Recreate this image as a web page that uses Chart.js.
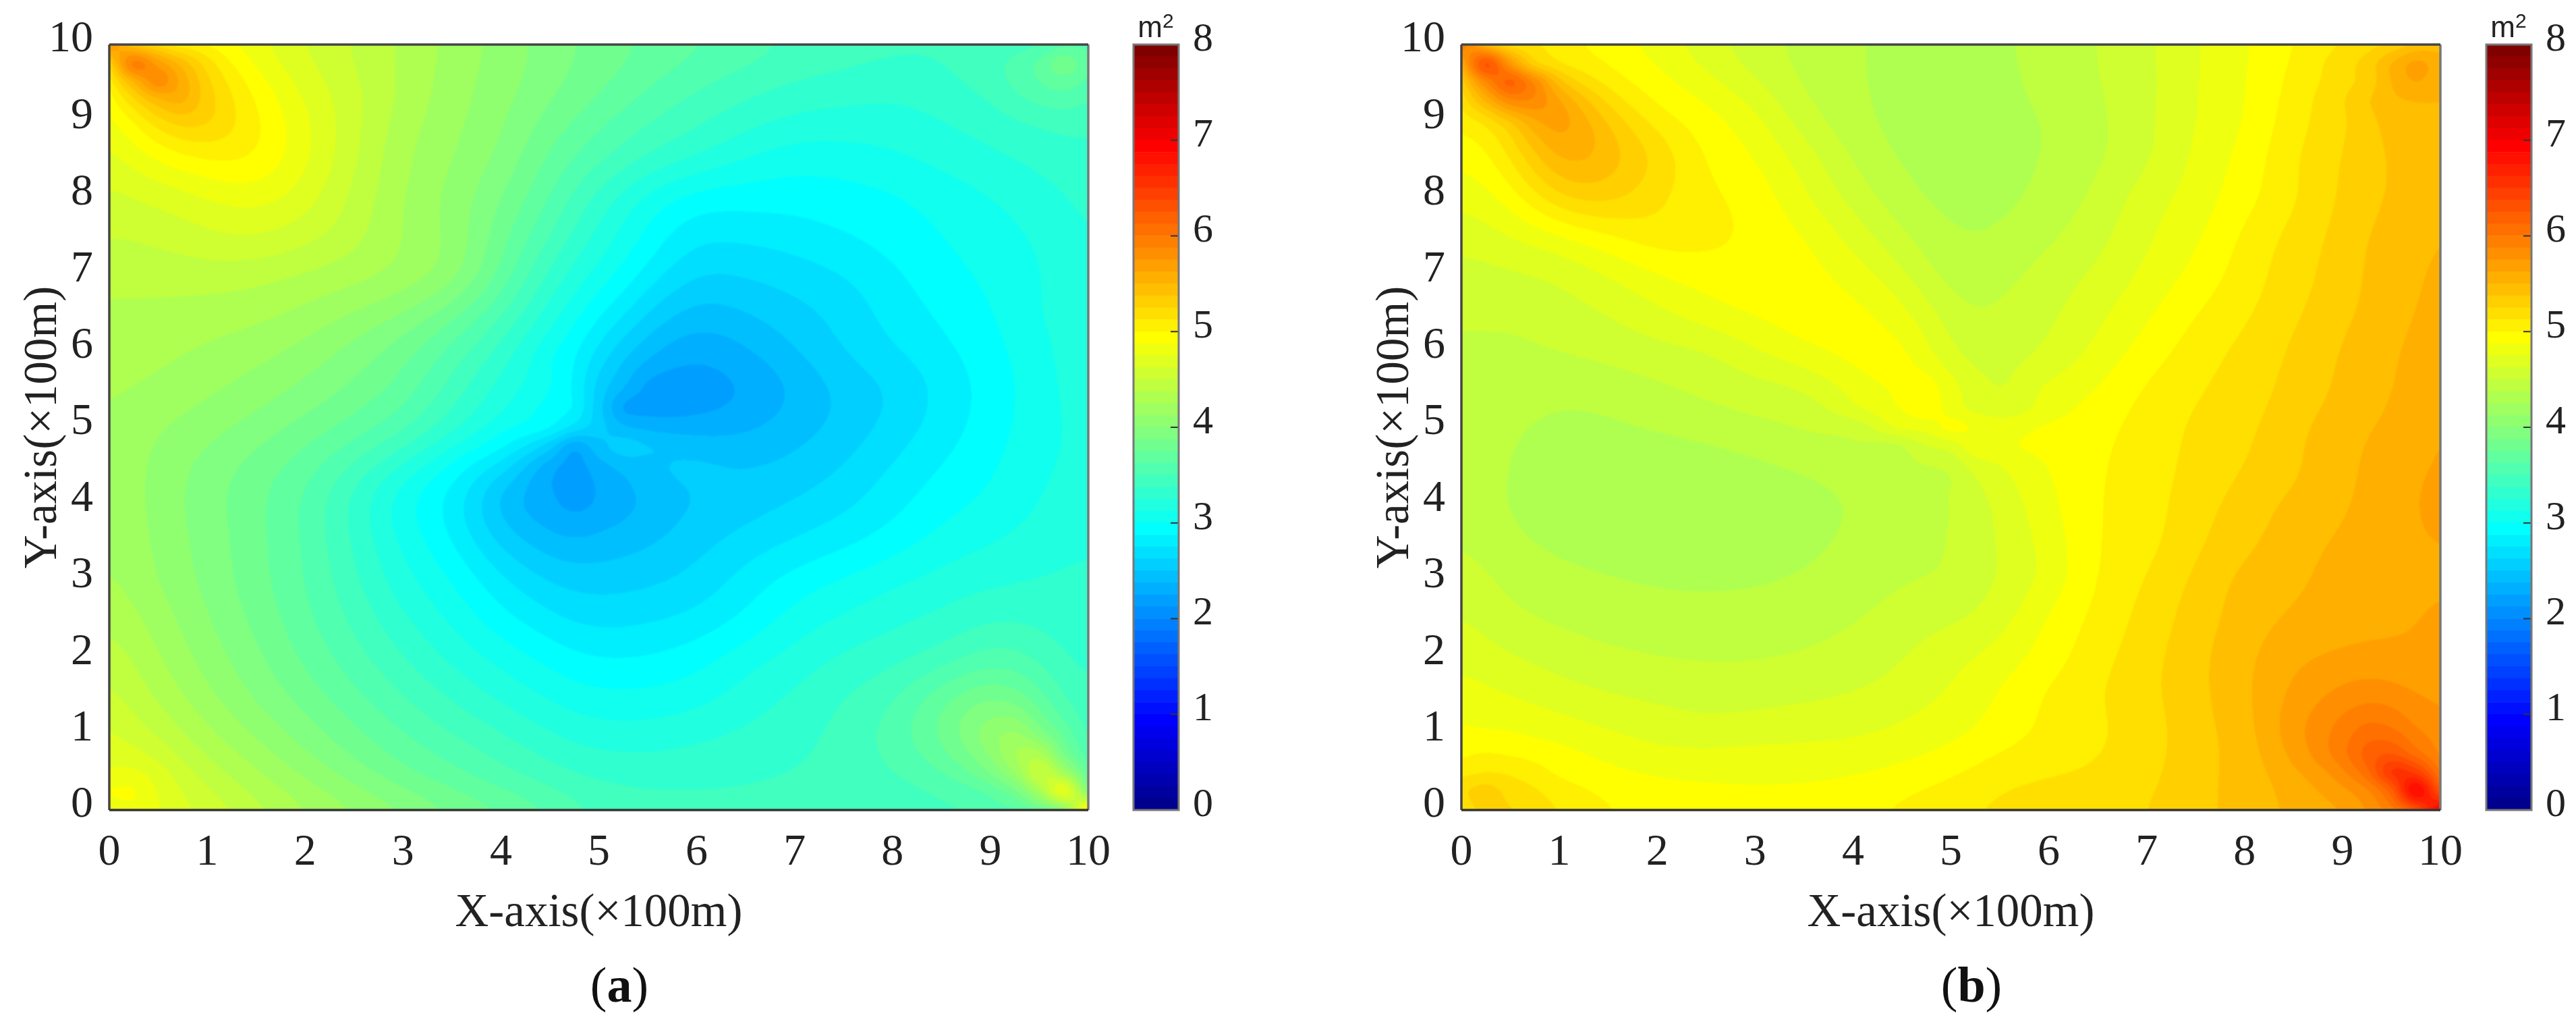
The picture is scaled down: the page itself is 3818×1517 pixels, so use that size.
<!DOCTYPE html>
<html>
<head>
<meta charset="utf-8">
<title>Contour maps</title>
<script src="https://cdn.jsdelivr.net/npm/chart.js@4"></script>
<style>
  html, body { margin: 0; background: #fff; }
  body { position: relative; width: 3818px; height: 1517px; overflow: hidden; font-family: "Liberation Serif", serif; color: #222; }
  canvas { position: absolute; top: 0; }
  .tag { position: absolute; top: 1414px; width: 200px; text-align: center; font-size: 74px; line-height: 90px; color: #111; }
  .unit { position: absolute; top: 15px; width: 80px; text-align: center; font-family: "Liberation Sans", sans-serif; font-size: 44px; line-height: 50px; color: #222; }
  .unit sup { font-size: 30px; line-height: 0; position: relative; top: 2px; vertical-align: super; }
</style>
</head>
<body>
<canvas id="fieldA" width="1670" height="1517" style="left:0"></canvas>
<canvas id="barA" width="143" height="1300" style="left:1670px"></canvas>
<canvas id="fieldB" width="1670" height="1517" style="left:2004px"></canvas>
<canvas id="barB" width="143" height="1300" style="left:3675px"></canvas>
<div class="tag" style="left:818px">(<b>a</b>)</div>
<div class="tag" style="left:2822px">(<b>b</b>)</div>
<div class="unit" style="left:1673px">m<sup>2</sup></div>
<div class="unit" style="left:3678px">m<sup>2</sup></div>
<script>
const xTicks = [0, 1, 2, 3, 4, 5, 6, 7, 8, 9, 10];
const yTicks = [0, 1, 2, 3, 4, 5, 6, 7, 8, 9, 10];
const colorTicks = [0, 1, 2, 3, 4, 5, 6, 7, 8];

// contour levels of the colour scale, m2
const levels = [
  0, 0.125, 0.25, 0.375, 0.5, 0.625, 0.75, 0.875, 1, 1.125, 1.25, 1.375, 1.5, 1.625, 1.75, 1.875,
  2, 2.125, 2.25, 2.375, 2.5, 2.625, 2.75, 2.875, 3, 3.125, 3.25, 3.375, 3.5, 3.625, 3.75, 3.875,
  4, 4.125, 4.25, 4.375, 4.5, 4.625, 4.75, 4.875, 5, 5.125, 5.25, 5.375, 5.5, 5.625, 5.75, 5.875,
  6, 6.125, 6.25, 6.375, 6.5, 6.625, 6.75, 6.875, 7, 7.125, 7.25, 7.375, 7.5, 7.625, 7.75, 7.875, 8
];

// sample positions, closer together at the corners and round the middle point
const gridX = [0, 0.25, 0.5, 0.75, 1, 1.5, 2, 2.5, 3, 3.5, 4, 4.5, 4.75, 5, 5.25, 5.5, 6, 6.5, 7, 7.5, 8, 8.5, 9, 9.25, 9.5, 9.75, 10];
const gridY = [10, 9.75, 9.5, 9.25, 9, 8.5, 8, 7.5, 7, 6.5, 6, 5.5, 5.25, 5, 4.75, 4.5, 4, 3.5, 3, 2.5, 2, 1.5, 1, 0.75, 0.5, 0.25, 0];

// places where the field really is sharp, kept out of the display smoothing
const sharpSpots = [[0, 10], [10, 0], [0, 0], [10, 10], [5, 5]];

// values, one row per gridY entry
const fieldA = [
  [5.8, 5.4, 5.2, 5.05, 4.95, 4.75, 4.6, 4.48, 4.35, 4.22, 4.08, 3.95, 3.88, 3.83, 3.78, 3.74, 3.66, 3.58, 3.5, 3.46, 3.42, 3.4, 3.42, 3.45, 3.5, 3.6, 3.6],
  [5.3, 5.9, 5.7, 5.45, 5.2, 4.85, 4.65, 4.5, 4.35, 4.2, 4.07, 3.94, 3.87, 3.82, 3.76, 3.7, 3.6, 3.52, 3.44, 3.4, 3.36, 3.38, 3.47, 3.53, 3.65, 3.82, 3.65],
  [5.05, 5.5, 5.8, 5.6, 5.3, 4.95, 4.7, 4.52, 4.35, 4.19, 4.06, 3.92, 3.85, 3.79, 3.72, 3.65, 3.53, 3.44, 3.37, 3.33, 3.3, 3.34, 3.44, 3.53, 3.62, 3.68, 3.6],
  [4.92, 5.2, 5.45, 5.55, 5.32, 5.0, 4.75, 4.55, 4.35, 4.18, 4.04, 3.88, 3.8, 3.73, 3.65, 3.58, 3.46, 3.37, 3.3, 3.27, 3.25, 3.29, 3.38, 3.46, 3.52, 3.55, 3.5],
  [4.82, 5.0, 5.2, 5.33, 5.3, 5.03, 4.78, 4.54, 4.31, 4.16, 4.02, 3.83, 3.74, 3.66, 3.58, 3.51, 3.4, 3.3, 3.22, 3.2, 3.2, 3.25, 3.31, 3.36, 3.4, 3.43, 3.42],
  [4.68, 4.8, 4.88, 4.95, 5.0, 5.0, 4.78, 4.52, 4.28, 4.13, 3.97, 3.72, 3.62, 3.53, 3.44, 3.36, 3.24, 3.12, 3.05, 3.06, 3.1, 3.16, 3.22, 3.25, 3.28, 3.31, 3.33],
  [4.58, 4.62, 4.66, 4.7, 4.75, 4.8, 4.68, 4.47, 4.25, 4.08, 3.88, 3.62, 3.47, 3.33, 3.2, 3.08, 2.94, 2.93, 2.93, 2.95, 2.98, 3.05, 3.12, 3.16, 3.2, 3.25, 3.28],
  [4.5, 4.51, 4.53, 4.56, 4.6, 4.63, 4.55, 4.42, 4.24, 4.09, 3.8, 3.5, 3.35, 3.21, 3.09, 2.97, 2.78, 2.78, 2.81, 2.87, 2.93, 3.0, 3.07, 3.1, 3.15, 3.2, 3.27],
  [4.42, 4.42, 4.43, 4.44, 4.44, 4.42, 4.36, 4.3, 4.22, 4.08, 3.72, 3.35, 3.2, 3.08, 2.97, 2.83, 2.63, 2.64, 2.69, 2.75, 2.85, 2.95, 3.03, 3.07, 3.11, 3.18, 3.26],
  [4.35, 4.35, 4.34, 4.33, 4.32, 4.29, 4.22, 4.12, 4.0, 3.8, 3.52, 3.2, 3.05, 2.9, 2.77, 2.62, 2.45, 2.5, 2.58, 2.67, 2.8, 2.9, 2.99, 3.06, 3.12, 3.19, 3.26],
  [4.3, 4.3, 4.28, 4.26, 4.23, 4.17, 4.08, 3.95, 3.8, 3.58, 3.33, 3.03, 2.9, 2.72, 2.55, 2.42, 2.28, 2.36, 2.5, 2.63, 2.74, 2.84, 2.96, 3.02, 3.07, 3.16, 3.25],
  [4.27, 4.25, 4.22, 4.19, 4.15, 4.07, 3.97, 3.85, 3.7, 3.45, 3.2, 3.0, 2.85, 2.58, 2.37, 2.22, 2.19, 2.24, 2.38, 2.53, 2.63, 2.78, 2.92, 3.0, 3.07, 3.14, 3.22],
  [4.25, 4.22, 4.18, 4.14, 4.1, 4.01, 3.9, 3.77, 3.62, 3.38, 3.15, 2.95, 2.85, 2.55, 2.25, 2.2, 2.21, 2.27, 2.4, 2.52, 2.64, 2.79, 2.93, 3.0, 3.07, 3.13, 3.2],
  [4.24, 4.19, 4.14, 4.09, 4.05, 3.95, 3.83, 3.7, 3.55, 3.3, 3.05, 2.87, 2.7, 2.55, 2.4, 2.35, 2.32, 2.35, 2.44, 2.54, 2.67, 2.8, 2.94, 3.01, 3.07, 3.13, 3.18],
  [4.24, 4.17, 4.1, 4.05, 4.0, 3.88, 3.75, 3.6, 3.4, 3.15, 2.9, 2.55, 2.3, 2.45, 2.55, 2.5, 2.45, 2.43, 2.49, 2.58, 2.71, 2.84, 2.96, 3.02, 3.08, 3.13, 3.18],
  [4.24, 4.16, 4.09, 4.02, 3.95, 3.82, 3.68, 3.47, 3.22, 2.95, 2.7, 2.32, 2.2, 2.33, 2.42, 2.47, 2.53, 2.5, 2.53, 2.63, 2.76, 2.88, 2.98, 3.04, 3.1, 3.14, 3.18],
  [4.25, 4.16, 4.08, 4.0, 3.93, 3.78, 3.6, 3.33, 3.03, 2.82, 2.44, 2.27, 2.2, 2.26, 2.33, 2.4, 2.5, 2.56, 2.64, 2.72, 2.83, 2.95, 3.03, 3.08, 3.13, 3.17, 3.2],
  [4.26, 4.18, 4.1, 4.02, 3.95, 3.79, 3.61, 3.36, 3.1, 2.88, 2.6, 2.42, 2.38, 2.42, 2.45, 2.48, 2.58, 2.68, 2.76, 2.84, 2.94, 3.05, 3.12, 3.15, 3.18, 3.21, 3.24],
  [4.28, 4.2, 4.12, 4.04, 3.96, 3.8, 3.62, 3.4, 3.17, 3.0, 2.78, 2.62, 2.58, 2.57, 2.58, 2.6, 2.67, 2.8, 2.93, 3.02, 3.1, 3.17, 3.22, 3.24, 3.26, 3.27, 3.28],
  [4.37, 4.28, 4.19, 4.1, 4.01, 3.84, 3.66, 3.47, 3.27, 3.1, 2.92, 2.78, 2.72, 2.71, 2.71, 2.73, 2.78, 2.9, 3.05, 3.14, 3.22, 3.28, 3.36, 3.36, 3.34, 3.31, 3.3],
  [4.46, 4.36, 4.26, 4.16, 4.07, 3.9, 3.72, 3.55, 3.38, 3.22, 3.08, 2.96, 2.9, 2.87, 2.87, 2.88, 2.95, 3.07, 3.17, 3.27, 3.33, 3.42, 3.55, 3.55, 3.47, 3.38, 3.32],
  [4.55, 4.45, 4.35, 4.25, 4.15, 3.98, 3.82, 3.65, 3.5, 3.35, 3.22, 3.1, 3.05, 3.03, 3.02, 3.03, 3.07, 3.18, 3.27, 3.37, 3.48, 3.7, 3.85, 3.82, 3.65, 3.48, 3.38],
  [4.64, 4.57, 4.48, 4.38, 4.28, 4.1, 3.94, 3.78, 3.63, 3.5, 3.38, 3.26, 3.21, 3.18, 3.17, 3.18, 3.22, 3.27, 3.33, 3.42, 3.56, 3.8, 4.13, 4.2, 3.95, 3.7, 3.45],
  [4.7, 4.66, 4.57, 4.46, 4.36, 4.18, 4.01, 3.85, 3.7, 3.58, 3.46, 3.34, 3.29, 3.26, 3.25, 3.25, 3.28, 3.32, 3.36, 3.42, 3.55, 3.72, 4.05, 4.3, 4.3, 3.85, 3.55],
  [4.77, 4.77, 4.68, 4.55, 4.44, 4.26, 4.09, 3.93, 3.77, 3.65, 3.53, 3.42, 3.37, 3.34, 3.33, 3.32, 3.33, 3.35, 3.38, 3.42, 3.5, 3.63, 3.9, 4.15, 4.5, 4.2, 3.7],
  [4.88, 4.88, 4.74, 4.62, 4.52, 4.35, 4.18, 4.03, 3.88, 3.74, 3.62, 3.5, 3.45, 3.41, 3.4, 3.39, 3.39, 3.39, 3.4, 3.41, 3.44, 3.5, 3.65, 3.85, 4.25, 4.7, 4.0],
  [4.8, 4.85, 4.76, 4.66, 4.59, 4.45, 4.3, 4.19, 4.07, 3.95, 3.83, 3.7, 3.6, 3.5, 3.46, 3.44, 3.42, 3.42, 3.42, 3.42, 3.42, 3.45, 3.52, 3.6, 3.75, 4.05, 5.1]
];

// values
const fieldB = [
  [6.0, 5.5, 5.2, 5.12, 5.05, 4.92, 4.79, 4.65, 4.55, 4.46, 4.39, 4.34, 4.32, 4.31, 4.32, 4.36, 4.42, 4.5, 4.6, 4.73, 4.85, 4.98, 5.125, 5.2, 5.28, 5.4, 5.45],
  [5.6, 6.25, 5.75, 5.3, 5.1, 4.98, 4.875, 4.72, 4.57, 4.47, 4.39, 4.33, 4.31, 4.3, 4.31, 4.35, 4.42, 4.5, 4.6, 4.75, 4.87, 5.03, 5.2, 5.3, 5.5, 5.65, 5.55],
  [5.3, 5.85, 6.15, 5.9, 5.45, 5.05, 4.93, 4.79, 4.63, 4.48, 4.4, 4.32, 4.3, 4.3, 4.31, 4.34, 4.42, 4.5, 4.58, 4.74, 4.86, 5.03, 5.2, 5.3, 5.5, 5.62, 5.53],
  [5.15, 5.5, 5.85, 5.9, 5.7, 5.22, 4.96, 4.89, 4.72, 4.51, 4.41, 4.32, 4.3, 4.3, 4.31, 4.34, 4.4, 4.48, 4.6, 4.75, 4.87, 5.07, 5.25, 5.37, 5.47, 5.5, 5.5],
  [5.02, 5.15, 5.35, 5.6, 5.75, 5.375, 5.07, 4.93, 4.8, 4.56, 4.42, 4.33, 4.31, 4.3, 4.31, 4.33, 4.38, 4.47, 4.6, 4.75, 4.87, 5.07, 5.22, 5.33, 5.43, 5.47, 5.48],
  [4.9, 4.95, 5.12, 5.35, 5.53, 5.45, 5.24, 4.99, 4.875, 4.7, 4.49, 4.36, 4.33, 4.32, 4.31, 4.32, 4.39, 4.48, 4.6, 4.78, 4.92, 5.12, 5.26, 5.33, 5.39, 5.43, 5.47],
  [4.78, 4.82, 4.93, 5.08, 5.25, 5.3, 5.14, 5.03, 4.95, 4.77, 4.58, 4.42, 4.36, 4.34, 4.33, 4.34, 4.42, 4.53, 4.7, 4.8, 4.95, 5.1, 5.27, 5.33, 5.39, 5.44, 5.51],
  [4.67, 4.7, 4.75, 4.8, 4.85, 4.98, 5.09, 5.05, 4.97, 4.88, 4.7, 4.52, 4.44, 4.39, 4.37, 4.39, 4.48, 4.58, 4.73, 4.85, 5.03, 5.17, 5.3, 5.38, 5.43, 5.47, 5.51],
  [4.57, 4.59, 4.6, 4.62, 4.65, 4.75, 4.86, 4.93, 4.96, 4.93, 4.82, 4.65, 4.53, 4.44, 4.42, 4.46, 4.55, 4.65, 4.78, 4.91, 5.06, 5.19, 5.32, 5.39, 5.44, 5.48, 5.54],
  [4.53, 4.53, 4.53, 4.54, 4.57, 4.63, 4.73, 4.83, 4.9, 4.93, 4.92, 4.79, 4.68, 4.55, 4.49, 4.52, 4.6, 4.72, 4.85, 5.0, 5.1, 5.23, 5.34, 5.4, 5.45, 5.5, 5.56],
  [4.47, 4.47, 4.47, 4.49, 4.51, 4.54, 4.58, 4.61, 4.74, 4.87, 4.92, 4.9, 4.78, 4.65, 4.58, 4.58, 4.64, 4.78, 4.93, 5.06, 5.16, 5.27, 5.39, 5.44, 5.49, 5.53, 5.58],
  [4.47, 4.45, 4.43, 4.41, 4.4, 4.43, 4.48, 4.53, 4.57, 4.6, 4.8, 4.9, 4.93, 4.8, 4.68, 4.63, 4.78, 4.88, 5.02, 5.11, 5.19, 5.29, 5.4, 5.44, 5.49, 5.55, 5.6],
  [4.45, 4.43, 4.41, 4.39, 4.375, 4.38, 4.44, 4.48, 4.53, 4.57, 4.73, 4.88, 4.95, 4.82, 4.72, 4.68, 4.8, 4.93, 5.04, 5.13, 5.2, 5.31, 5.42, 5.46, 5.51, 5.57, 5.63],
  [4.44, 4.41, 4.39, 4.365, 4.35, 4.36, 4.39, 4.43, 4.47, 4.51, 4.54, 4.77, 4.8, 4.9, 4.86, 4.82, 4.9, 4.97, 5.05, 5.15, 5.22, 5.34, 5.45, 5.49, 5.53, 5.59, 5.64],
  [4.44, 4.41, 4.385, 4.35, 4.32, 4.32, 4.33, 4.36, 4.4, 4.44, 4.47, 4.5, 4.62, 4.68, 4.83, 4.85, 4.92, 4.98, 5.05, 5.16, 5.23, 5.36, 5.47, 5.51, 5.55, 5.6, 5.64],
  [4.45, 4.41, 4.375, 4.33, 4.3, 4.29, 4.29, 4.31, 4.35, 4.39, 4.43, 4.47, 4.5, 4.54, 4.68, 4.75, 4.88, 4.99, 5.05, 5.17, 5.25, 5.34, 5.47, 5.51, 5.57, 5.62, 5.64],
  [4.47, 4.4, 4.37, 4.33, 4.3, 4.28, 4.27, 4.28, 4.31, 4.33, 4.38, 4.43, 4.47, 4.5, 4.57, 4.66, 4.84, 5.0, 5.06, 5.21, 5.29, 5.42, 5.47, 5.54, 5.6, 5.63, 5.64],
  [4.51, 4.44, 4.4, 4.37, 4.35, 4.32, 4.31, 4.31, 4.32, 4.34, 4.4, 4.46, 4.48, 4.5, 4.56, 4.64, 4.8, 5.0, 5.08, 5.22, 5.34, 5.45, 5.52, 5.57, 5.6, 5.62, 5.63],
  [4.58, 4.52, 4.47, 4.43, 4.41, 4.385, 4.365, 4.355, 4.36, 4.39, 4.44, 4.49, 4.5, 4.5, 4.56, 4.63, 4.78, 5.01, 5.13, 5.28, 5.42, 5.47, 5.56, 5.59, 5.6, 5.61, 5.62],
  [4.65, 4.57, 4.53, 4.5, 4.48, 4.44, 4.42, 4.42, 4.43, 4.45, 4.49, 4.55, 4.58, 4.6, 4.64, 4.7, 4.9, 5.04, 5.17, 5.31, 5.43, 5.52, 5.57, 5.59, 5.61, 5.625, 5.64],
  [4.72, 4.68, 4.63, 4.6, 4.57, 4.53, 4.5, 4.49, 4.49, 4.51, 4.55, 4.62, 4.67, 4.72, 4.75, 4.8, 4.93, 5.08, 5.2, 5.34, 5.47, 5.6, 5.64, 5.66, 5.64, 5.64, 5.65],
  [4.81, 4.78, 4.75, 4.72, 4.68, 4.63, 4.6, 4.57, 4.58, 4.6, 4.63, 4.68, 4.72, 4.76, 4.82, 4.9, 5.03, 5.12, 5.22, 5.34, 5.47, 5.66, 5.79, 5.85, 5.82, 5.75, 5.71],
  [4.9, 4.89, 4.88, 4.85, 4.83, 4.76, 4.71, 4.68, 4.7, 4.72, 4.74, 4.78, 4.82, 4.84, 4.88, 4.93, 5.02, 5.1, 5.18, 5.33, 5.44, 5.72, 5.95, 6.1, 6.05, 5.9, 5.8],
  [4.97, 5.0, 4.98, 4.95, 4.92, 4.84, 4.77, 4.76, 4.79, 4.78, 4.79, 4.81, 4.85, 4.89, 4.95, 5.0, 5.07, 5.12, 5.2, 5.33, 5.42, 5.7, 6.0, 6.2, 6.25, 6.05, 5.85],
  [5.08, 5.12, 5.1, 5.05, 4.97, 4.9, 4.86, 4.86, 4.85, 4.85, 4.86, 4.93, 4.96, 4.98, 5.03, 5.08, 5.09, 5.13, 5.2, 5.33, 5.43, 5.57, 5.85, 6.1, 6.5, 6.45, 6.0],
  [5.22, 5.3, 5.2, 5.14, 5.07, 4.98, 4.93, 4.9, 4.89, 4.9, 4.93, 4.98, 5.0, 5.05, 5.09, 5.12, 5.18, 5.19, 5.24, 5.34, 5.42, 5.55, 5.7, 5.85, 6.2, 6.85, 6.3],
  [5.15, 5.3, 5.26, 5.2, 5.13, 5.03, 4.98, 4.95, 4.93, 4.95, 4.98, 5.05, 5.08, 5.12, 5.14, 5.17, 5.2, 5.22, 5.25, 5.34, 5.42, 5.52, 5.62, 5.75, 5.95, 6.3, 7.0]
];

const FONT = '"Liberation Serif", serif';
const TEXT = '#222';

function clamp01(v) { return Math.max(0, Math.min(1, v)); }

// MATLAB jet with 64 rows, k is 0..63
function jet(k) {
  const x = (k + 1) / 64;
  return [
    Math.round(255 * clamp01(1.5 - Math.abs(4 * x - 3))),
    Math.round(255 * clamp01(1.5 - Math.abs(4 * x - 2))),
    Math.round(255 * clamp01(1.5 - Math.abs(4 * x - 1)))
  ];
}

function tangents(px, v) {
  const n = px.length, m = new Array(n);
  for (let i = 1; i < n - 1; i++) {
    const h0 = px[i] - px[i - 1], h1 = px[i + 1] - px[i];
    m[i] = ((v[i + 1] - v[i]) / h1 * h0 + (v[i] - v[i - 1]) / h0 * h1) / (h0 + h1);
  }
  m[0] = (v[1] - v[0]) / (px[1] - px[0]);
  m[n - 1] = (v[n - 1] - v[n - 2]) / (px[n - 1] - px[n - 2]);
  return m;
}

// cubic resampling of one line of grid values onto whole pixels
function resample(px, v, start, count) {
  const m = tangents(px, v), out = new Float32Array(count);
  let i = 0;
  for (let s = 0; s < count; s++) {
    const p = start + s + 0.5;
    while (i < px.length - 2 && p > px[i + 1]) i++;
    const h = px[i + 1] - px[i], t = Math.max(0, Math.min(1, (p - px[i]) / h));
    const t2 = t * t, t3 = t2 * t;
    out[s] = (2 * t3 - 3 * t2 + 1) * v[i] + (t3 - 2 * t2 + t) * h * m[i] +
             (-2 * t3 + 3 * t2) * v[i + 1] + (t3 - t2) * h * m[i + 1];
  }
  return out;
}

// one box pass along a line of n cells, step apart
function boxLine(src, dst, start, step, n, r) {
  let sum = 0;
  for (let i = -r; i <= r; i++) sum += src[start + step * Math.max(0, Math.min(n - 1, i))];
  for (let i = 0; i < n; i++) {
    dst[start + step * i] = sum / (2 * r + 1);
    sum += src[start + step * Math.min(n - 1, i + r + 1)] - src[start + step * Math.max(0, i - r)];
  }
}

function smoothField(f, w, h, r) {
  let a = Float32Array.from(f), b = new Float32Array(f.length);
  for (let pass = 0; pass < 3; pass++) {
    for (let y = 0; y < h; y++) boxLine(a, b, y * w, 1, w, r);
    for (let x = 0; x < w; x++) boxLine(b, a, x, w, h, r);
  }
  return a;
}

// filled contours between the grid samples, like contourf; node positions come from the chart's scales.
// The readings are rough, so the surface is smoothed for display away from the sharp spots.
const contourFill = {
  id: 'contourFill',
  beforeDatasetsDraw(chart) {
    const { ctx, chartArea: a, scales } = chart;
    const rows = chart.data.datasets[0].field;
    const left = Math.round(a.left), top = Math.round(a.top);
    const w = Math.round(a.right) - left, h = Math.round(a.bottom) - top;
    const px = gridX.map(v => scales.x.getPixelForValue(v));
    const py = gridY.map(v => scales.y.getPixelForValue(v));
    const lines = rows.map(r => resample(px, r, left, w));
    const field = new Float32Array(w * h);
    for (let c = 0; c < w; c++) {
      const col = resample(py, lines.map(l => l[c]), top, h);
      for (let r = 0; r < h; r++) field[r * w + c] = col[r];
    }
    const soft = smoothField(field, w, h, 26);
    const off = document.createElement('canvas');
    off.width = w; off.height = h;
    const octx = off.getContext('2d');
    const img = octx.createImageData(w, h);
    const colors = levels.slice(0, -1).map((_, k) => jet(k));
    const step = levels[1] - levels[0];
    for (let r = 0; r < h; r++) {
      const vy = scales.y.getValueForPixel(top + r + 0.5);
      for (let c = 0; c < w; c++) {
        const vx = scales.x.getValueForPixel(left + c + 0.5);
        let d = Infinity;
        for (const s of sharpSpots) d = Math.min(d, Math.hypot(vx - s[0], vy - s[1]));
        const mix = clamp01((d - 0.7) / 0.9);
        const i = r * w + c;
        const v = field[i] * (1 - mix) + soft[i] * mix;
        const rgb = colors[Math.max(0, Math.min(63, Math.floor(v / step)))];
        const o = i * 4;
        img.data[o] = rgb[0]; img.data[o + 1] = rgb[1]; img.data[o + 2] = rgb[2]; img.data[o + 3] = 255;
      }
    }
    octx.putImageData(img, 0, 0);
    ctx.save();
    ctx.beginPath(); ctx.rect(left, top, w, h); ctx.clip();
    ctx.filter = 'blur(1px)';
    ctx.drawImage(off, left, top);
    ctx.restore();
  },
  afterDraw(chart) {
    const { ctx, chartArea: a } = chart;
    const side = (x0, y0, x1, y1, color) => {
      ctx.strokeStyle = color; ctx.lineWidth = 3.5;
      ctx.beginPath(); ctx.moveTo(x0, y0); ctx.lineTo(x1, y1); ctx.stroke();
    };
    ctx.save();
    side(a.right, a.top, a.right, a.bottom, '#777');
    side(a.left, a.top, a.right, a.top, '#444');
    side(a.left, a.top, a.left, a.bottom, '#444');
    side(a.left, a.bottom, a.right, a.bottom, '#333');
    ctx.restore();
  }
};

const barFrame = {
  id: 'barFrame',
  afterDraw(chart) {
    const { ctx, chartArea: a, scales } = chart;
    ctx.save();
    ctx.strokeStyle = '#333'; ctx.lineWidth = 2;
    colorTicks.slice(1, -1).forEach(v => {
      const y = scales.y.getPixelForValue(v);
      ctx.beginPath(); ctx.moveTo(a.right - 12, y); ctx.lineTo(a.right, y); ctx.stroke();
    });
    ctx.strokeStyle = '#777'; ctx.lineWidth = 3;
    ctx.strokeRect(a.left, a.top, a.right - a.left, a.bottom - a.top);
    ctx.restore();
  }
};

function useTicks(values) {
  return scale => { scale.ticks = values.map(value => ({ value })); };
}

function makeField(id, rows) {
  const points = [];
  gridY.forEach((y, j) => gridX.forEach((x, i) => points.push({ x, y, v: rows[j][i] })));
  new Chart(document.getElementById(id), {
    type: 'scatter',
    data: { datasets: [{ data: points, field: rows, pointRadius: 0, pointHoverRadius: 0 }] },
    plugins: [contourFill],
    options: {
      responsive: false,
      animation: false,
      devicePixelRatio: 1,
      layout: { autoPadding: false, padding: { top: 66, right: 51, left: 0, bottom: 0 } },
      plugins: { legend: { display: false }, tooltip: { enabled: false } },
      scales: {
        x: {
          type: 'linear', min: 0, max: 10,
          afterBuildTicks: useTicks(xTicks),
          afterFit(s) { s.height = 317; },
          grid: { display: false, drawTicks: false },
          border: { display: false },
          ticks: { autoSkip: false, maxRotation: 0, padding: 24, color: TEXT, font: { family: FONT, size: 66 } },
          title: { display: true, text: 'X-axis(×100m)', color: TEXT, font: { family: FONT, size: 69 }, padding: { top: 0, bottom: 122 } }
        },
        y: {
          type: 'linear', min: 0, max: 10,
          afterBuildTicks: useTicks(yTicks),
          afterFit(s) { s.width = 162; },
          grid: { display: false, drawTicks: false },
          border: { display: false },
          ticks: { autoSkip: false, padding: 24, labelOffset: -7, color: TEXT, font: { family: FONT, size: 66 } },
          title: { display: true, text: 'Y-axis(×100m)', color: TEXT, font: { family: FONT, size: 69 }, padding: { top: 23, bottom: 0 } }
        }
      }
    }
  });
}

function makeBar(id) {
  const bands = levels.slice(0, -1).map((lo, k) => {
    const rgb = jet(k);
    return {
      data: [levels[k + 1] - lo],
      backgroundColor: `rgb(${rgb[0]},${rgb[1]},${rgb[2]})`,
      borderWidth: 0,
      barPercentage: 1,
      categoryPercentage: 1
    };
  });
  new Chart(document.getElementById(id), {
    type: 'bar',
    data: { labels: ['m2'], datasets: bands },
    plugins: [barFrame],
    options: {
      responsive: false,
      animation: false,
      devicePixelRatio: 1,
      layout: { autoPadding: false, padding: { top: 66, left: 10, right: 0, bottom: 100 } },
      plugins: { legend: { display: false }, tooltip: { enabled: false } },
      scales: {
        x: { display: false, stacked: true },
        y: {
          position: 'right', stacked: true, min: 0, max: 8,
          afterBuildTicks: useTicks(colorTicks),
          afterFit(s) { s.width = 66; },
          grid: { display: false, drawTicks: false },
          border: { display: false },
          ticks: { autoSkip: false, padding: 21, labelOffset: -7, color: TEXT, font: { family: FONT, size: 60 } }
        }
      }
    }
  });
}

makeField('fieldA', fieldA);
makeBar('barA');
makeField('fieldB', fieldB);
makeBar('barB');
</script>
</body>
</html>
